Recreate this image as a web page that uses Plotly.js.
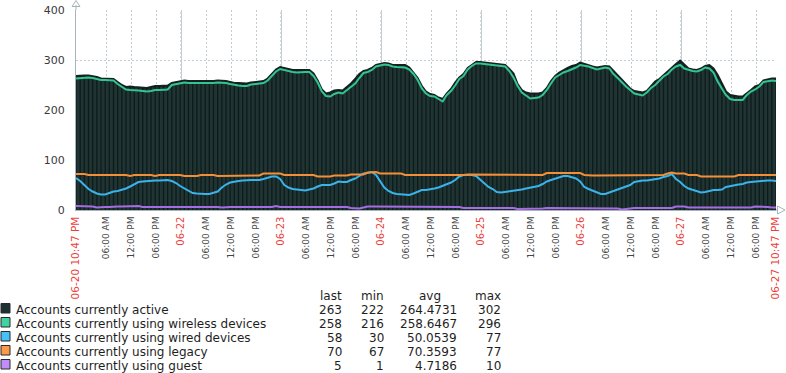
<!DOCTYPE html>
<html><head><meta charset="utf-8">
<script src="https://cdn.plot.ly/plotly-3.0.1.min.js"></script>
<style>html,body{margin:0;padding:0;background:#fff;}#chart{width:786px;height:373px;}</style>
</head><body><div id="chart"></div>
<script>
// hourly samples starting 06-20 10:47 PM
const startUTC = Date.UTC(2023, 5, 20, 22, 47);

const active = [
268,269,269,269,268,266,263,263,262,262,
256,250,246,247,246,245,244,244,246,248,
248,248,249,254,256,258,259,258,258,257,
257,257,258,258,259,259,258,256,254,254,
253,253,255,256,256,258,263,271,281,286,
284,281,280,280,280,280,280,273,259,241,
233,235,239,240,239,246,253,262,272,278,
280,284,290,292,294,293,290,290,290,290,
285,275,264,248,237,232,230,225,222,233,
242,255,265,272,284,290,296,296,295,294,
292,291,290,290,282,273,252,240,235,233,
233,233,235,244,258,268,275,280,284,288,
290,295,292,290,287,285,286,288,287,278,
270,259,250,243,238,236,235,238,248,257,
262,270,276,285,292,299,290,283,281,280,
283,288,290,283,270,252,237,230,228,227,
227,233,240,247,250,259,261,263,263];

const wireless = [
263,264,265,265,264,262,260,260,259,259,
252,246,241,240,240,239,238,237,238,240,
240,241,241,250,252,254,255,254,254,253,
253,253,254,254,255,255,254,252,250,249,
248,248,251,252,252,254,259,267,277,282,
280,277,276,275,276,276,276,268,255,237,
228,227,232,235,233,240,247,253,264,274,
276,280,287,289,291,290,287,286,286,285,
281,272,260,243,233,228,227,222,217,230,
238,249,262,268,281,288,293,293,292,291,
289,288,287,287,278,265,248,235,229,223,
224,225,230,240,253,265,270,275,278,281,
285,290,289,287,284,281,283,285,283,272,
264,255,247,240,233,231,229,235,244,250,
258,267,272,281,287,290,283,280,278,277,
280,285,283,275,257,243,230,222,220,220,
220,230,237,241,247,256,258,259,258];

const wired = [
64,58,50,42,37,33,31,31,34,37,
38,40,43,47,51,56,57,58,58,59,
59,59,60,58,54,48,43,38,34,33,
32,32,32,34,37,45,51,55,57,58,
59,60,60,60,60,62,65,67,67,62,
50,45,42,41,40,39,41,43,47,50,
50,50,53,57,56,56,60,63,68,73,
74,76,70,58,45,38,34,32,31,30,
30,33,37,40,40,41,43,45,48,51,
55,60,67,70,70,70,68,60,52,46,
42,36,35,36,37,38,39,41,43,45,
46,48,52,57,60,63,66,68,68,66,
63,57,46,42,39,35,32,32,35,37,
40,43,47,50,56,58,59,59,60,61,
63,66,68,72,62,56,48,43,40,37,
35,36,38,40,40,41,46,48,50,51,
52,55,56,57,57,59,59,59,58];

const legacy = [
72,72,72,70,70,70,70,70,70,70,
70,70,70,68,70,70,70,70,70,68,
70,70,70,70,70,70,68,68,68,68,
70,70,70,70,68,68,68,68,68,68,
68,68,69,69,69,73,73,73,73,73,
70,70,70,70,70,70,70,70,67,67,
67,67,69,69,69,69,71,71,71,71,
75,75,76,73,73,73,73,73,73,70,
70,70,70,70,70,69,70,70,69,70,
70,70,70,70,71,71,71,71,70,70,
70,70,70,70,70,70,70,70,70,70,
70,70,70,74,74,74,74,74,74,74,
74,74,70,69,69,69,69,69,69,69,
69,69,69,70,70,70,70,70,70,70,
70,70,73,75,73,73,73,70,70,70,
67,67,67,67,67,67,67,67,67,70,
70,70,70,70,70,70,70,70,70];

const guest = [
8,8,7,7,7,5,6,6,6,7,
7,7,7,7,8,8,6,6,6,7,
7,6,6,6,6,6,6,6,6,6,
6,6,6,6,6,5,6,6,6,6,
6,6,6,6,7,6,7,6,8,6,
6,6,6,6,6,7,6,6,6,6,
6,6,6,6,6,6,4,3,3,5,
7,7,7,7,7,7,7,7,7,7,
7,7,7,7,7,7,7,6,6,6,
6,6,6,4,4,4,4,4,4,4,
5,5,5,5,5,4,2,2,2,2,
2,2,3,4,4,4,4,4,4,4,
4,4,4,4,4,4,3,3,3,3,
3,1,2,4,4,4,4,4,4,4,
4,4,4,4,7,7,7,5,5,5,
5,6,6,6,5,5,5,5,5,5,
5,5,5,7,7,7,6,5,5];

const tickTimes = [
'2023-06-20 22:47',
'2023-06-21 06:00','2023-06-21 12:00','2023-06-21 18:00',
'2023-06-22 00:00','2023-06-22 06:00','2023-06-22 12:00','2023-06-22 18:00',
'2023-06-23 00:00','2023-06-23 06:00','2023-06-23 12:00','2023-06-23 18:00',
'2023-06-24 00:00','2023-06-24 06:00','2023-06-24 12:00','2023-06-24 18:00',
'2023-06-25 00:00','2023-06-25 06:00','2023-06-25 12:00','2023-06-25 18:00',
'2023-06-26 00:00','2023-06-26 06:00','2023-06-26 12:00','2023-06-26 18:00',
'2023-06-27 00:00','2023-06-27 06:00','2023-06-27 12:00','2023-06-27 18:00',
'2023-06-27 22:47'];
const tickLabels = [
'06-20 10:47 PM',
'06:00 AM','12:00 PM','06:00 PM',
'06-22','06:00 AM','12:00 PM','06:00 PM',
'06-23','06:00 AM','12:00 PM','06:00 PM',
'06-24','06:00 AM','12:00 PM','06:00 PM',
'06-25','06:00 AM','12:00 PM','06:00 PM',
'06-26','06:00 AM','12:00 PM','06:00 PM',
'06-27','06:00 AM','12:00 PM','06:00 PM',
'06-27 10:47 PM'];
const yTicks = [0, 100, 200, 300, 400];

const seriesNames = ['Accounts currently active','Accounts currently using wireless devices',
  'Accounts currently using wired devices','Accounts currently using legacy','Accounts currently using guest'];
const statHeaders = ['last','min','avg','max'];
const lastVals = [263, 258, 58, 70, 5];
const minVals = [222, 216, 30, 67, 1];
const avgVals = [264.4731, 258.6467, 50.0539, 70.3593, 4.7186];
const maxVals = [302, 296, 77, 77, 10];

// ---- styling ----
const FONT = 'DejaVu Sans';
const lineColors = ['#142222', '#33c490', '#39b3ea', '#f28f38', '#a66de2'];
const swatchColors = ['#1e3234', '#40d2a0', '#48c0f8', '#fa9a4c', '#c08ef8'];
const fillColor = '#203434';
const stripeColor = '#0f1b1b';
const gridLight = '#c3ccd3';
const gridDark = '#9eabb5';
const axisColor = '#a9b3bb';

function fmt(ms) { return new Date(ms).toISOString().slice(0, 19).replace('T', ' '); }
const times = active.map((_, i) => fmt(startUTC + i * 3600000));

// stripes: vertical seams at each sample
const sx = [], sy = [];
times.forEach((t, i) => { sx.push(t, t, null); sy.push(0, active[i], null); });

const traces = [
  {x: times, y: active, type: 'scatter', mode: 'lines', fill: 'tozeroy', fillcolor: fillColor,
   line: {color: lineColors[0], width: 2}, hoverinfo: 'skip'},
  {x: sx, y: sy, type: 'scatter', mode: 'lines', line: {color: stripeColor, width: 1.3}, hoverinfo: 'skip'},
  {x: times, y: wired, type: 'scatter', mode: 'lines', line: {color: lineColors[2], width: 2}},
  {x: times, y: legacy, type: 'scatter', mode: 'lines', line: {color: lineColors[3], width: 2}},
  {x: times, y: wireless, type: 'scatter', mode: 'lines', line: {color: lineColors[1], width: 2}},
  {x: times, y: guest, type: 'scatter', mode: 'lines', line: {color: lineColors[4], width: 2}},
];

const L = 76, R = 776, T = 10, B = 210;
const px = v => (v - L) / (R - L);
const py = v => (B - v) / (B - T);

const tickText = tickLabels.map((s, i) => {
  if (i === 0 || i === tickLabels.length - 1)
    return '<span style="color:#ec3f3b;font-size:10.5px">' + s + '</span>';
  if (s.indexOf(':') < 0)
    return '<span style="color:#ec3f3b;font-size:10px">' + s + '</span>';
  return s;
});

const shapes = [];
tickTimes.forEach((t, i) => {
  if (tickLabels[i].indexOf(':') < 0 && i !== 0 && i !== tickTimes.length - 1) {
    shapes.push({type: 'line', xref: 'x', yref: 'paper', x0: t, x1: t, y0: 0, y1: 1, layer: 'below',
      line: {color: gridDark, width: 1, dash: '2px,2px'}});
  }
});
// axis extension and arrows
shapes.push({type: 'line', xref: 'paper', yref: 'paper', x0: 1, x1: px(778), y0: 0, y1: 0,
  line: {color: axisColor, width: 1}});
shapes.push({type: 'path', xref: 'paper', yref: 'paper',
  path: `M ${px(777.5)},${py(206)} L ${px(785)},${py(210)} L ${px(777.5)},${py(214)} Z`,
  line: {color: axisColor, width: 1}, fillcolor: 'rgba(0,0,0,0)'});
shapes.push({type: 'line', xref: 'paper', yref: 'paper', x0: 0, x1: 0, y0: 1, y1: py(5),
  line: {color: axisColor, width: 1}});
shapes.push({type: 'path', xref: 'paper', yref: 'paper',
  path: `M ${px(72)},${py(6.5)} L ${px(76)},${py(0.5)} L ${px(80)},${py(6.5)} Z`,
  line: {color: axisColor, width: 1}, fillcolor: 'rgba(0,0,0,0)'});

// legend table
const annotations = [];
const rowY = [310, 324, 338, 352, 366];
const headerY = 296;
const colRight = [343, 385, 458.5, 502];
const headerRight = [343, 385, 442, 502];
const tfont = {family: FONT, size: 12, color: '#1e1e1e'};
statHeaders.forEach((h, j) => annotations.push({xref: 'paper', yref: 'paper', x: px(headerRight[j]), y: py(headerY),
  xanchor: 'right', yanchor: 'middle', text: h, showarrow: false, font: tfont, borderpad: 0}));
seriesNames.forEach((n, i) => {
  annotations.push({xref: 'paper', yref: 'paper', x: px(15), y: py(rowY[i]), xanchor: 'left', yanchor: 'middle',
    text: n, showarrow: false, font: tfont, borderpad: 0});
  const vals = [String(lastVals[i]), String(minVals[i]), avgVals[i].toFixed(4), String(maxVals[i])];
  vals.forEach((v, j) => annotations.push({xref: 'paper', yref: 'paper', x: px(colRight[j]), y: py(rowY[i]),
    xanchor: 'right', yanchor: 'middle', text: v, showarrow: false, font: tfont, borderpad: 0}));
  shapes.push({type: 'rect', xref: 'paper', yref: 'paper', x0: px(1), x1: px(10), y0: py(rowY[i] - 6.5), y1: py(rowY[i] + 3),
    fillcolor: swatchColors[i], line: {color: '#2a2a2a', width: 1}});
});

const layout = {
  width: 786, height: 373,
  margin: {l: L, r: 786 - R, t: T, b: 373 - B},
  paper_bgcolor: '#ffffff', plot_bgcolor: '#ffffff',
  showlegend: false,
  font: {family: FONT, color: '#3a3a3a'},
  xaxis: {type: 'date', range: [times[0], times[times.length - 1]], tickmode: 'array',
    tickvals: tickTimes, ticktext: tickText, tickangle: -90, tickfont: {family: FONT, size: 9, color: '#444'},
    showgrid: true, gridcolor: gridLight, griddash: '2px,2px', gridwidth: 1,
    showline: true, linecolor: axisColor, linewidth: 1, zeroline: false, ticks: '', ticklabelstandoff: 2,
    fixedrange: true},
  yaxis: {range: [0, 400], tickmode: 'array', tickvals: yTicks, ticktext: yTicks.map(String),
    tickfont: {family: FONT, size: 11, color: '#3a3a3a'},
    showgrid: true, gridcolor: gridLight, griddash: '2px,2px', gridwidth: 1,
    showline: true, linecolor: axisColor, linewidth: 1, zeroline: false, ticks: '', ticklabelstandoff: 8,
    fixedrange: true},
  shapes: shapes,
  annotations: annotations,
  hovermode: false,
};

Plotly.newPlot('chart', traces, layout, {displayModeBar: false, staticPlot: true});
</script>
</body></html>
